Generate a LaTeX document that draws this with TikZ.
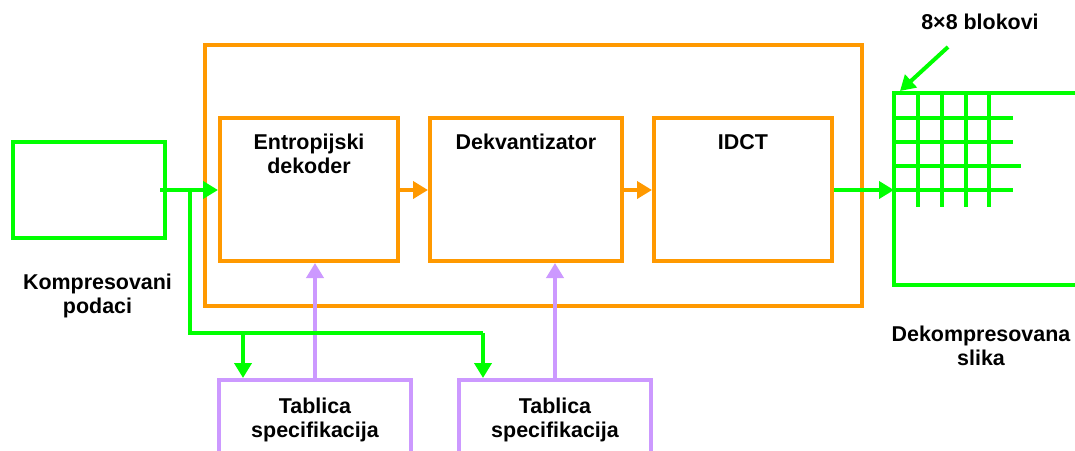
\documentclass[tikz,border=0pt]{standalone}
\usepackage{fontspec}
\setmainfont{Liberation Sans}
\usetikzlibrary{arrows.meta,positioning}

\definecolor{jgreen}{RGB}{0,255,0}
\definecolor{jorange}{RGB}{255,153,0}
\definecolor{jpurple}{RGB}{204,153,255}

\begin{document}
\begin{tikzpicture}[
    gbox/.style={rectangle, draw=jgreen, line width=0.08cm, inner sep=0pt},
    obox/.style={rectangle, draw=jorange, line width=0.08cm, inner sep=0pt},
    pbox/.style={rectangle, draw=jpurple, line width=0.08cm, inner sep=0pt},
    lbl/.style={font=\fontsize{12.2}{13.6}\selectfont\bfseries, align=center, inner sep=0pt},
    gline/.style={draw=jgreen, line width=0.08cm},
    garrow/.style={gline, -{Triangle[length=0.3cm, width=0.34cm]}},
    oarrow/.style={draw=jorange, line width=0.08cm, -{Triangle[length=0.3cm, width=0.34cm]}},
    parrow/.style={draw=jpurple, line width=0.08cm, -{Triangle[length=0.3cm, width=0.34cm]}}
]
\useasboundingbox (0,0) rectangle (21.5,-9);

% === Compressed data (left) ===
\node[gbox, minimum width=3.04cm, minimum height=1.92cm] (in) at (1.78,-3.80) {};
\node[lbl] (in-label) at (1.95,-5.92) {Kompresovani\\podaci};

% === Decoder ===
\node[obox, minimum width=13.14cm, minimum height=5.22cm] (dec) at (10.67,-3.51) {};
\node[obox, minimum width=3.56cm, minimum height=2.86cm] (ent) at (6.18,-3.79) {};
\node[obox, minimum width=3.84cm, minimum height=2.86cm] (dekv) at (10.52,-3.79) {};
\node[obox, minimum width=3.56cm, minimum height=2.86cm] (idct) at (14.86,-3.79) {};
\node[lbl, anchor=north, below=0.36cm of ent.north] (ent-label) {Entropijski\\dekoder};
\node[lbl, anchor=north, below=0.36cm of dekv.north] (dekv-label) {Dekvantizator};
\node[lbl, anchor=north, below=0.36cm of idct.north] (idct-label) {IDCT};

\draw[oarrow] (ent.east |- 0,-3.80) -- (dekv.west |- 0,-3.80);
\draw[oarrow] (dekv.east |- 0,-3.80) -- (idct.west |- 0,-3.80);

% === Specification tables ===
\node[pbox, minimum width=3.84cm, minimum height=1.8cm] (tab1) at (6.30,-8.50) {};
\node[pbox, minimum width=3.84cm, minimum height=1.8cm] (tab2) at (11.10,-8.50) {};
\node[lbl, anchor=north, below=0.40cm of tab1.north] (tab1-label) {Tablica\\specifikacija};
\node[lbl, anchor=north, below=0.40cm of tab2.north] (tab2-label) {Tablica\\specifikacija};

\draw[parrow] (tab1.north) -- (tab1.north |- ent.south);
\draw[parrow] (tab2.north) -- (tab2.north |- dekv.south);

% === Green data path ===
\coordinate (split) at (3.80,-3.80);
\coordinate (busA) at (4.86,-6.66);
\coordinate (busB) at (9.66,-6.66);
\draw[garrow] (in.east) ++(-0.14,0) -- (ent.west |- in.east);
\draw[gline] (split) |- (busB);
\draw[garrow] (busA) -- (busA |- tab1.north);
\draw[garrow] (busB) -- (busB |- tab2.north);

% === Decompressed image with 8x8 blocks ===
\coordinate (img) at (17.88,-3.80);
\draw[garrow] (idct.east |- img) -- (img);
\draw[gline] (21.6,-1.86) -| (17.88,-5.70) -- (21.6,-5.70);
\foreach \y/\xe in {-2.36/20.26, -2.84/20.26, -3.32/20.42, -3.80/20.26}
    \draw[gline] (17.88,\y) -- (\xe,\y);
\foreach \x in {18.36, 18.84, 19.32, 19.78}
    \draw[gline] (\x,-1.86) -- (\x,-4.14);

\node[lbl] (blk-label) at (19.60,-0.44) {8×8 blokovi};
\coordinate (corner) at (18.00,-1.82);
\draw[garrow] (18.96,-0.94) -- (corner);
\node[lbl] (out-label) at (19.62,-6.92) {Dekompresovana\\slika};

\end{tikzpicture}
\end{document}
